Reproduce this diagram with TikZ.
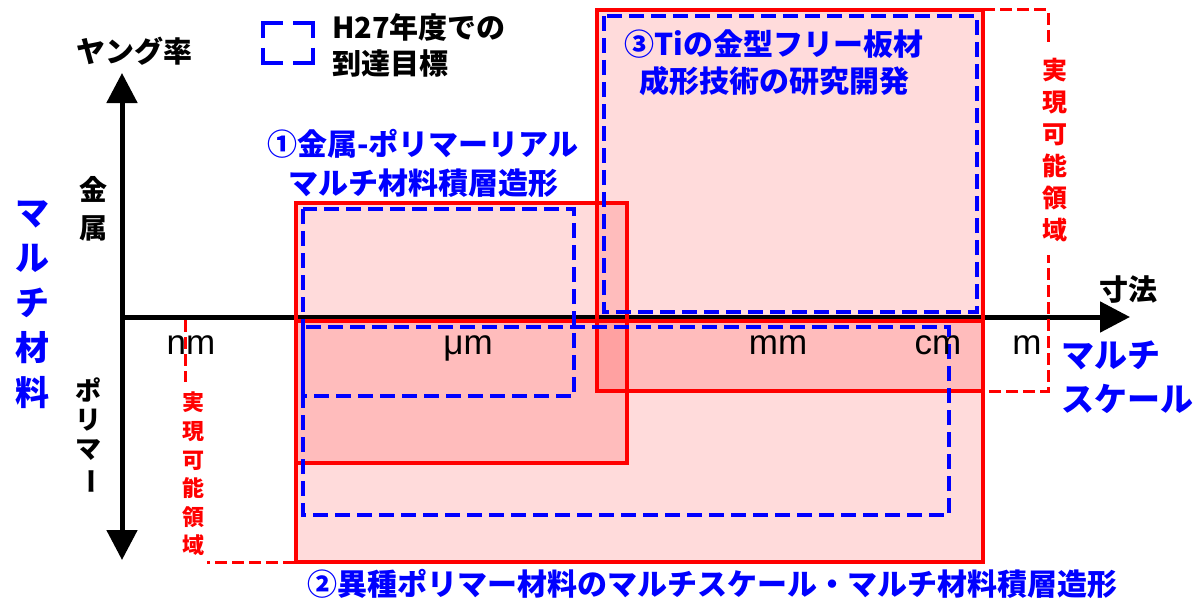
\documentclass[tikz,border=0pt]{standalone}
\usepackage{fontspec}
\setmainfont{Liberation Sans}
\newfontfamily\jp{Noto Sans CJK JP}
\usetikzlibrary{arrows.meta}
\definecolor{bluetxt}{RGB}{0,0,255}
\definecolor{redln}{RGB}{255,0,0}
\tikzset{
  axisline/.style={line width=5pt},
  region/.style={fill=redln, fill opacity=0.14, draw=none},
  realbox/.style={draw=redln, line width=3.5pt},
  goalbox/.style={draw=bluetxt, line width=4.5pt, dash pattern=on 15pt off 7pt},
  legendbox/.style={draw=bluetxt, line width=4.5pt},
  limitline/.style={draw=redln, line width=3pt, dash pattern=on 12pt off 5pt},
  jtext/.style={font=\jp\bfseries\fontsize{29}{38}\selectfont, inner sep=0pt},
  bluelabel/.style={inner sep=0pt, text=bluetxt, align=center},
  unitlabel/.style={font=\fontsize{35}{40}\selectfont, inner sep=0pt, anchor=base},
}
\begin{document}
\begin{tikzpicture}[x=1pt,y=-1pt]
\useasboundingbox (0,0) rectangle (1196,602);
% coordinates
\coordinate (O) at (122,317);
\coordinate (ytop) at (122,73);
\coordinate (ybot) at (122,560);
\coordinate (xend) at (1130,317);
% filled regions
\fill[region] (296,203) rectangle (627,463);
\fill[region] (296,321) rectangle (983,562);
\fill[region] (597,10) rectangle (983,391);
% axes
\draw[axisline, {Triangle[length=30pt,width=30pt]}-{Triangle[length=30pt,width=30pt]}] (ybot) -- (ytop);
\draw[axisline, -{Triangle[length=30pt,width=30pt]}] (O) -- (xend);
% realizable boxes
\draw[realbox] (296,203) rectangle (627,463);
\draw[realbox] (296,321) rectangle (983,562);
\draw[realbox] (597,10) rectangle (983,391);
% goal boxes
\draw[goalbox] (303,209) rectangle (574,396);
\draw[goalbox] (303,327) rectangle (949,515);
\draw[goalbox] (604,16) rectangle (977,312);
% limit lines
\coordinate (L1) at (185,320);
\coordinate (L2) at (185,562);
\coordinate (L3) at (297,562);
\draw[limitline] (L1) -- (L2) -- (L3);
\coordinate (R1) at (983,10);
\coordinate (R2) at (1048,10);
\coordinate (R3) at (1048,391);
\coordinate (R4) at (983,391);
\draw[limitline] (R1) -- (R2) -- (R3) -- (R4);
\node[inner xsep=3pt, inner ysep=10pt, fill=white, text=redln, align=center,
  font=\jp\bfseries\fontsize{22}{28.6}\selectfont] (limL) at (193,474) {実\\現\\可\\能\\領\\域};
\node[inner xsep=3pt, inner ysep=13pt, fill=white, text=redln, align=center,
  font=\jp\bfseries\fontsize{25}{32}\selectfont] (limR) at (1055,150) {実\\現\\可\\能\\領\\域};
% legend
\draw[legendbox] (263,38) -- (263,23) -- (283,23);
\draw[legendbox] (293,23) -- (313,23) -- (313,38);
\draw[legendbox] (313,48) -- (313,63) -- (293,63);
\draw[legendbox] (283,63) -- (263,63) -- (263,48);
\node[inner sep=0pt, anchor=west, align=left, font=\jp\bfseries\fontsize{29}{36}\selectfont] (legend) at (332,45) {H27年度での\\到達目標};
% axis labels
\node[jtext] (young) at (134,51) {ヤング率};
\node[jtext] (size) at (1128,290) {寸法};
\node[inner sep=0pt, align=center, font=\jp\bfseries\fontsize{28}{38}\selectfont] (metal) at (93,209) {金\\属};
\node[inner sep=0pt, align=center, font=\jp\bfseries\fontsize{26}{29}\selectfont] (polymer) at (88,436) {ポ\\リ\\マ\\\rotatebox[origin=c]{-90}{ー}};
\node[bluelabel, font=\jp\bfseries\fontsize{34}{45}\selectfont] (multimat) at (32,305) {マ\\ル\\チ\\材\\料};
\node[bluelabel, anchor=west, align=left, font=\jp\bfseries\fontsize{33}{44}\selectfont] (multiscale) at (1061,377) {マルチ\\スケール};
% units
\node[unitlabel] (nm) at (191,354) {nm};
\node[unitlabel] (um) at (468,354) {μm};
\node[unitlabel] (mm) at (778,354) {mm};
\node[unitlabel] (cm) at (938,354) {cm};
\node[unitlabel] (m) at (1027,354) {m};
% project labels
\node[bluelabel, font=\jp\bfseries\fontsize{30}{39}\selectfont] (p1) at (423,163) {①金属-ポリマーリアル\\マルチ材料積層造形};
\node[bluelabel, font=\jp\bfseries\fontsize{30}{37}\selectfont] (p3) at (774,63) {③Tiの金型フリー板材\\成形技術の研究開発};
\node[bluelabel, font=\jp\bfseries\fontsize{30}{37}\selectfont] (p2) at (712,584) {②異種ポリマー材料のマルチスケール・マルチ材料積層造形};
\end{tikzpicture}
\end{document}
